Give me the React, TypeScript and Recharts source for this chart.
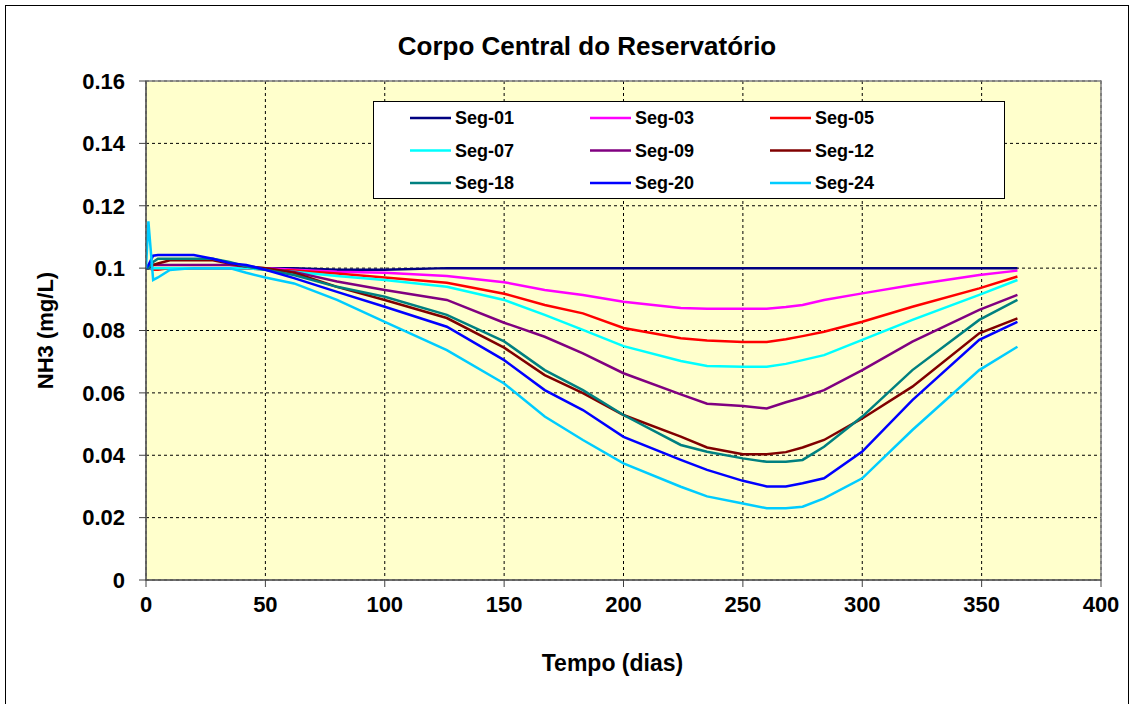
import { CartesianGrid, Label, Legend, Line, LineChart, ReferenceArea, XAxis, YAxis } from "recharts";

const FONT = "Arial, 'Liberation Sans', sans-serif";

// tempo (dias)
const days = [0, 1, 3, 5, 10, 20, 28, 35, 42, 50, 62, 80, 100, 126, 150, 167, 183, 200, 224, 235, 250, 260, 268, 275, 284, 300, 321, 349, 365];

// NH3 (mg/L) por segmento
const seg01 = [0.1, 0.1, 0.1, 0.1, 0.1, 0.1, 0.1, 0.1, 0.1, 0.1, 0.1, 0.0995, 0.0995, 0.1, 0.1, 0.1, 0.1, 0.1, 0.1, 0.1, 0.1, 0.1, 0.1, 0.1, 0.1, 0.1, 0.1, 0.1, 0.1];
const seg03 = [0.1, 0.1, 0.1, 0.1, 0.1, 0.1, 0.1, 0.1, 0.1, 0.1, 0.0995, 0.0988, 0.0985, 0.0975, 0.0955, 0.093, 0.0914, 0.0892, 0.0872, 0.087, 0.087, 0.087, 0.0875, 0.0882, 0.0898, 0.0919, 0.0946, 0.0978, 0.0992];
const seg05 = [0.1, 0.1, 0.0995, 0.0995, 0.1, 0.1, 0.1, 0.1, 0.1, 0.0995, 0.0992, 0.0983, 0.097, 0.0953, 0.0918, 0.0882, 0.0855, 0.0808, 0.0775, 0.0768, 0.0763, 0.0763, 0.0772, 0.0782, 0.0796, 0.0828, 0.0876, 0.0935, 0.0973];
const seg07 = [0.1, 0.1, 0.1, 0.1, 0.1, 0.1, 0.1, 0.1, 0.1, 0.0995, 0.0988, 0.0975, 0.0962, 0.094, 0.0898, 0.085, 0.0802, 0.075, 0.0702, 0.0686, 0.0684, 0.0684, 0.0693, 0.0705, 0.0721, 0.077, 0.0834, 0.0914, 0.0962];
const seg09 = [0.1, 0.1, 0.101, 0.101, 0.101, 0.101, 0.101, 0.101, 0.1005, 0.1, 0.0988, 0.0957, 0.093, 0.0898, 0.0825, 0.078, 0.0727, 0.0663, 0.0595, 0.0565, 0.0558, 0.055, 0.057, 0.0585, 0.0609, 0.0673, 0.0764, 0.0866, 0.0914];
const seg12 = [0.1, 0.1, 0.101, 0.1015, 0.1025, 0.1025, 0.1025, 0.1015, 0.1005, 0.1, 0.0985, 0.094, 0.0898, 0.084, 0.0745, 0.0657, 0.0599, 0.0529, 0.046, 0.0425, 0.0403, 0.0403, 0.041, 0.0425, 0.0449, 0.0518, 0.062, 0.0791, 0.0839];
const seg18 = [0.1, 0.1, 0.102, 0.103, 0.103, 0.103, 0.103, 0.102, 0.1005, 0.0995, 0.0978, 0.094, 0.0908, 0.085, 0.0765, 0.0673, 0.0609, 0.0529, 0.0433, 0.0411, 0.039, 0.0379, 0.0379, 0.0385, 0.0427, 0.0524, 0.0673, 0.0834, 0.0898];
const seg20 = [0.1, 0.101, 0.104, 0.1042, 0.1042, 0.1042, 0.103, 0.1016, 0.101, 0.0995, 0.0968, 0.0924, 0.0876, 0.0812, 0.0705, 0.0609, 0.0545, 0.0459, 0.0385, 0.0353, 0.0318, 0.03, 0.03, 0.031, 0.0326, 0.0412, 0.0577, 0.077, 0.0828];
const seg24 = [0.1, 0.115, 0.0962, 0.097, 0.0994, 0.1, 0.1, 0.1, 0.0985, 0.097, 0.0951, 0.0898, 0.0828, 0.0737, 0.063, 0.0524, 0.0449, 0.0374, 0.0299, 0.0268, 0.0245, 0.023, 0.023, 0.0235, 0.0262, 0.0326, 0.0481, 0.0673, 0.0748];

const xTicks = [0, 50, 100, 150, 200, 250, 300, 350, 400];
const yTicks = [0, 0.02, 0.04, 0.06, 0.08, 0.1, 0.12, 0.14, 0.16];

const series = [
  { key: "seg01", name: "Seg-01", color: "#000080", values: seg01 },
  { key: "seg03", name: "Seg-03", color: "#FF00FF", values: seg03 },
  { key: "seg05", name: "Seg-05", color: "#FF0000", values: seg05 },
  { key: "seg07", name: "Seg-07", color: "#00FFFF", values: seg07 },
  { key: "seg09", name: "Seg-09", color: "#800080", values: seg09 },
  { key: "seg12", name: "Seg-12", color: "#800000", values: seg12 },
  { key: "seg18", name: "Seg-18", color: "#008080", values: seg18 },
  { key: "seg20", name: "Seg-20", color: "#0000FF", values: seg20 },
  { key: "seg24", name: "Seg-24", color: "#00CCFF", values: seg24 },
];

const data = days.map((d, i) => {
  const row: Record<string, number> = { dia: d };
  series.forEach((s) => {
    row[s.key] = s.values[i];
  });
  return row;
});

function LegendBox() {
  return (
    <div style={{ width: 632, height: 98, border: "1px solid #000", background: "#fff", boxSizing: "border-box" }}>
      <svg width={630} height={96} style={{ display: "block" }}>
        {series.map((s, i) => {
          const x = 36 + (i % 3) * 180;
          const y = 16 + Math.floor(i / 3) * 32.5;
          return (
            <g key={s.key}>
              <line x1={x} x2={x + 41} y1={y} y2={y} stroke={s.color} strokeWidth={2.5} />
              <text x={x + 45} y={y} dominantBaseline="central" fontFamily={FONT} fontWeight="bold" fontSize={18} fill="#000">
                {s.name}
              </text>
            </g>
          );
        })}
      </svg>
    </div>
  );
}

const tickStyle = { fontSize: 22, fontWeight: "bold", fill: "#000", fontFamily: FONT };
const axisTitle = { fontSize: 23, fontWeight: "bold", fill: "#000", fontFamily: FONT };

export default function App() {
  return (
    <div style={{ position: "absolute", left: 0, top: 0, width: 1134, height: 704, background: "#fff", fontFamily: FONT }}>
      <div style={{ position: "absolute", left: 5, top: 5, width: 1124, height: 700, border: "1px solid #000", boxSizing: "border-box" }} />
      <div style={{ position: "absolute", left: 187, top: 33, width: 800, textAlign: "center", fontSize: 26, lineHeight: "27px", fontWeight: "bold" }}>
        Corpo Central do Reservatório
      </div>
      <div style={{ position: "absolute", left: 0, top: 0 }}>
        <LineChart width={1134} height={704} data={data} margin={{ top: 81, right: 33, bottom: 24, left: 20 }}>
          <CartesianGrid fill="#FFFFCC" stroke="#000" strokeDasharray="3 3" />
          <XAxis
            dataKey="dia"
            type="number"
            domain={[0, 400]}
            ticks={xTicks}
            height={100}
            tickSize={7}
            tickMargin={9}
            tick={tickStyle}
            stroke="#404040"
            allowDataOverflow
          >
            <Label value="Tempo (dias)" position="insideBottom" offset={9} dx={-11} style={axisTitle} />
          </XAxis>
          <YAxis
            type="number"
            domain={[0, 0.16]}
            ticks={yTicks}
            width={126}
            tickSize={7}
            tickMargin={14}
            tick={tickStyle}
            stroke="#404040"
            allowDataOverflow
          >
            <Label value="NH3 (mg/L)" angle={-90} position="insideLeft" offset={25} style={{ ...axisTitle, fontSize: 22, textAnchor: "middle" }} />
          </YAxis>
          <ReferenceArea x1={0} x2={400} y1={0} y2={0.16} fill="none" stroke="#808080" strokeWidth={1.5} />
          {series.map((s) => (
            <Line
              key={s.key}
              dataKey={s.key}
              name={s.name}
              stroke={s.color}
              strokeWidth={2.5}
              dot={false}
              type="linear"
              isAnimationActive={false}
            />
          ))}
          <Legend content={() => <LegendBox />} layout="horizontal" verticalAlign="middle" wrapperStyle={{ left: 373, top: 101, width: 632, height: 98 }} />
        </LineChart>
      </div>
    </div>
  );
}
